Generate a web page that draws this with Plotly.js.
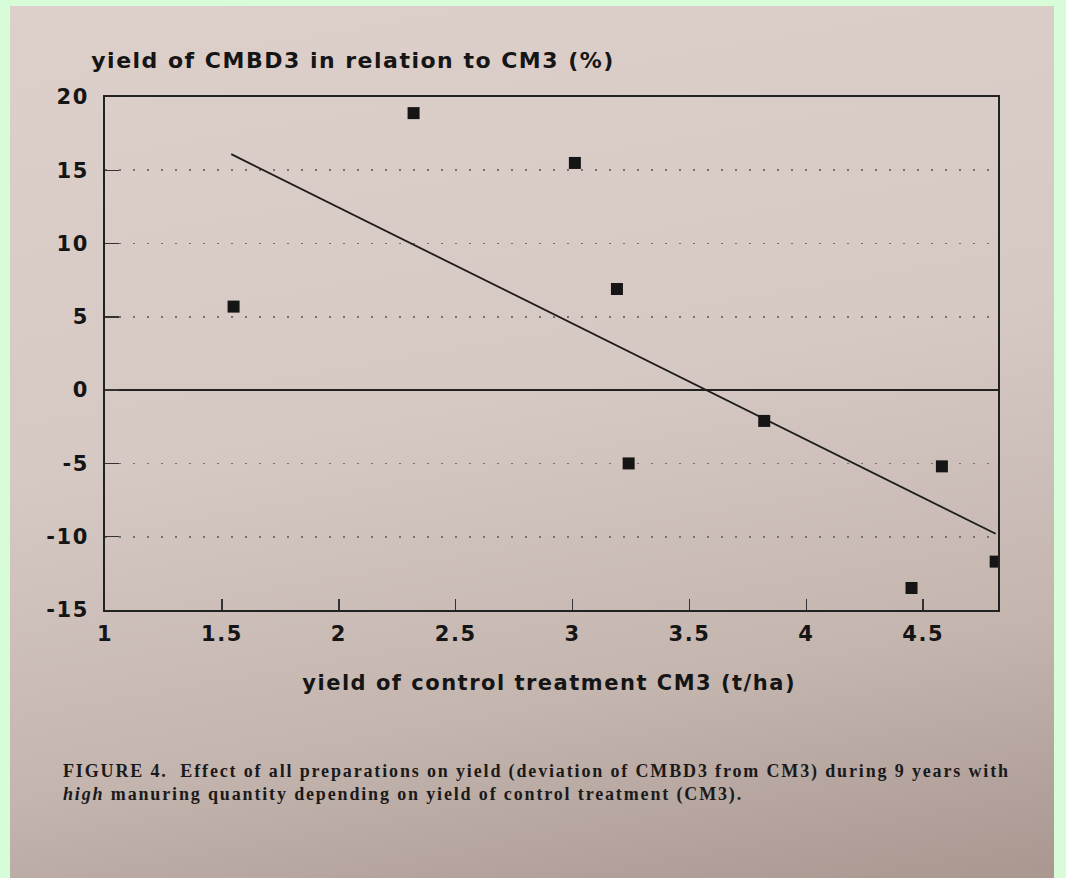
<!DOCTYPE html>
<html>
<head>
<meta charset="utf-8">
<script src="https://cdn.plot.ly/plotly-3.0.1.min.js"></script>
<style>
  html, body { margin: 0; padding: 0; }
  body { width: 1066px; height: 878px; background: #d6fdd8; position: relative; overflow: hidden; }
  #paper { position: absolute; left: 10px; top: 6px; width: 1044px; height: 872px;
           background: linear-gradient(170deg, #ddcfca 0%, #d6c8c3 45%, #c4b5af 75%, #a99790 100%); }
  #chart { position: absolute; left: 0; top: 0; width: 1066px; height: 878px; }
  #chart .xtick text, #chart .ytick text { letter-spacing: 1.5px; }
  #chart .annotation text { letter-spacing: 1.5px; }
  #chart .annotation.caption text { letter-spacing: 1.85px; }
</style>
</head>
<body>
<div id="paper"></div>
<div id="chart"></div>
<script>
// Data
const controlYield = [1.55, 2.32, 3.01, 3.19, 3.24, 3.82, 4.58, 4.45, 4.81];      // t/ha
const relYield     = [5.7, 18.9, 15.5, 6.9, -5.0, -2.1, -5.2, -13.5, -11.7];      // %
const fitX = [1.54, 4.81];
const fitY = [16.1, -9.8];
const xTicks = [1, 1.5, 2, 2.5, 3, 3.5, 4, 4.5];
const xTickText = ['1', '1.5', '2', '2.5', '3', '3.5', '4', '4.5'];
const yTicks = [-15, -10, -5, 0, 5, 10, 15, 20];
const yTickText = ['-15', '-10', '-5', '0', '5', '10', '15', '20'];

const ink = '#151515';
const sans = 'DejaVu Sans, Liberation Sans, Arial, sans-serif';

const traces = [
  {
    x: fitX, y: fitY, mode: 'lines', type: 'scatter',
    line: { color: '#1c1c1c', width: 1.8 }, hoverinfo: 'skip', showlegend: false
  },
  {
    x: controlYield, y: relYield, mode: 'markers', type: 'scatter',
    marker: { symbol: 'square', size: 12, color: ink }, showlegend: false
  }
];

const layout = {
  width: 1066, height: 878,
  paper_bgcolor: 'rgba(0,0,0,0)', plot_bgcolor: 'rgba(0,0,0,0)',
  margin: { l: 105, r: 68, t: 97, b: 268 },
  showlegend: false,
  xaxis: {
    range: [1, 4.82], tickvals: xTicks, ticktext: xTickText,
    showline: true, mirror: true, linecolor: '#222', linewidth: 2,
    ticks: 'inside', ticklen: 11, tickwidth: 1.5, tickcolor: '#333',
    showgrid: false, zeroline: false,
    tickfont: { family: sans, size: 21, color: ink, weight: 'bold' },
    ticklabelstandoff: 4,
    title: { text: '' }
  },
  yaxis: {
    range: [-15, 20], tickvals: yTicks, ticktext: yTickText,
    showline: true, mirror: true, linecolor: '#222', linewidth: 2,
    ticks: 'inside', ticklen: 14, tickwidth: 1.5, tickcolor: '#333',
    showgrid: true, gridcolor: '#7a706c', gridwidth: 1.6, griddash: '2px,12px',
    zeroline: true, zerolinecolor: '#222', zerolinewidth: 1.8,
    tickfont: { family: sans, size: 21, color: ink, weight: 'bold' },
    ticklabelstandoff: 10,
    title: { text: '' }
  },
  annotations: [
    {
      xref: 'paper', yref: 'paper', x: 0.013, y: 1.042, xanchor: 'left', yanchor: 'bottom',
      text: 'yield of CMBD3 in relation to CM3 (%)', showarrow: false,
      font: { family: sans, size: 22, color: ink, weight: 'bold' }
    },
    {
      xref: 'paper', yref: 'paper', x: 0.497, y: -0.115, xanchor: 'center', yanchor: 'top',
      text: 'yield of control treatment CM3 (t/ha)', showarrow: false,
      font: { family: sans, size: 21, color: ink, weight: 'bold' }
    },
    {
      xref: 'paper', yref: 'paper', x: -0.049, y: -0.29, xanchor: 'left', yanchor: 'top', align: 'left',
      text: 'FIGURE 4.  Effect of all preparations on yield (deviation of CMBD3 from CM3) during 9 years with<br><i>high</i> manuring quantity depending on yield of control treatment (CM3).',
      showarrow: false,
      font: { family: 'Liberation Serif, Times New Roman, serif', size: 18, color: '#1a1a1a', weight: 'bold' }
    }
  ]
};

Plotly.newPlot('chart', traces, layout, { displayModeBar: false, staticPlot: true }).then(function () {
  const anns = document.querySelectorAll('#chart .annotation');
  if (anns.length) anns[anns.length - 1].classList.add('caption');
});
</script>
</body>
</html>
